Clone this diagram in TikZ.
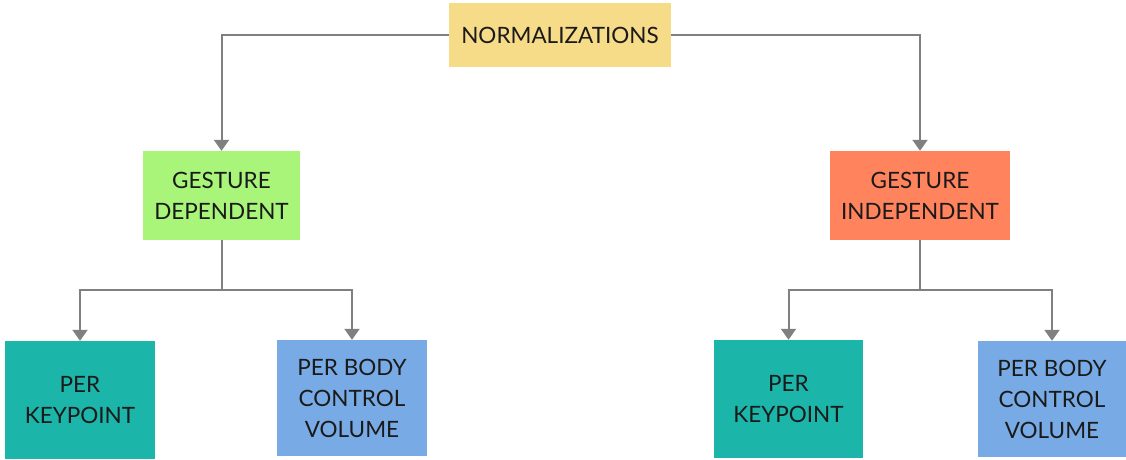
\documentclass[tikz,border=0pt]{standalone}
\usepackage{fontspec}
\setmainfont{Lato}
\usetikzlibrary{arrows.meta}
\definecolor{boxyellow}{HTML}{F6DB88}
\definecolor{boxgreen}{HTML}{A8F57A}
\definecolor{boxorange}{HTML}{FF835D}
\definecolor{boxteal}{HTML}{1BB5AA}
\definecolor{boxblue}{HTML}{78ABE5}
\definecolor{linegray}{HTML}{808080}
\definecolor{txt}{HTML}{1A1A1A}
\begin{document}
\begin{tikzpicture}[x=1pt,y=-1pt,
  box/.style={rectangle, inner sep=0pt, align=center, text=txt,
    font=\fontsize{22.5}{31}\selectfont},
  link/.style={draw=linegray, line width=2pt, -{Triangle[width=15pt,length=11pt]}},
  trunk/.style={draw=linegray, line width=2pt}]
\useasboundingbox (0,0) rectangle (1126,459);
% category boxes
\node[box, fill=boxyellow, minimum width=222pt, minimum height=64pt] (norm) at (560,35) {NORMALIZATIONS};
\node[box, fill=boxgreen, minimum width=157pt, minimum height=89pt] (gdep) at (221.5,195.5) {GESTURE\\DEPENDENT};
\node[box, fill=boxorange, minimum width=180pt, minimum height=89pt] (gind) at (920,195.5) {GESTURE\\INDEPENDENT};
\node[box, fill=boxteal, minimum width=150pt, minimum height=118pt] (kpl) at (80,400) {PER\\KEYPOINT};
\node[box, fill=boxblue, minimum width=150pt, minimum height=116pt] (bvl) at (352,398) {PER BODY\\CONTROL\\VOLUME};
\node[box, fill=boxteal, minimum width=149pt, minimum height=118pt] (kpr) at (788.5,399) {PER\\KEYPOINT};
\node[box, fill=boxblue, minimum width=148pt, minimum height=116pt] (bvr) at (1052,399) {PER BODY\\CONTROL\\VOLUME};
% branch points
\coordinate (jl) at (221.5,290);
\coordinate (jr) at (920,290);
% connectors
\draw[link] (norm.west) -| (gdep.north);
\draw[link] (norm.east) -| (gind.north);
\draw[trunk] (gdep.south) -- (jl);
\draw[link] (jl) -| (kpl.north);
\draw[link] (jl) -| (bvl.north);
\draw[trunk] (gind.south) -- (jr);
\draw[link] (jr) -| (kpr.north);
\draw[link] (jr) -| (bvr.north);
\end{tikzpicture}
\end{document}
